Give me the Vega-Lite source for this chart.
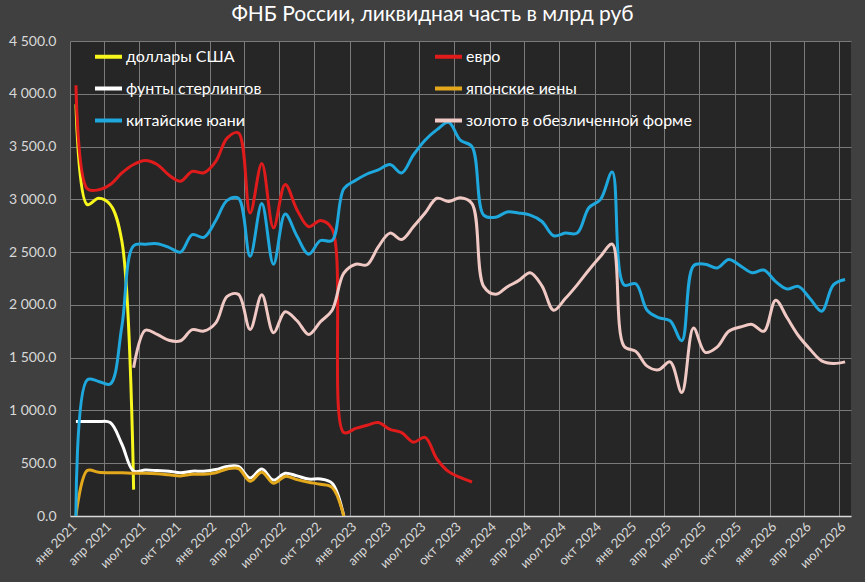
{
  "$schema": "https://vega.github.io/schema/vega-lite/v6.json",
  "width": 781,
  "height": 475,
  "autosize": "none",
  "padding": {"left": 70, "top": 41, "right": 14, "bottom": 66},
  "background": "#404040",
  "config": {"view": {"fill": "#262626", "stroke": null}, "font": "Lato"},
  "title": {"text": "ФНБ России, ликвидная часть в млрд руб", "color": "#ffffff", "fontSize": 21, "fontWeight": "normal", "anchor": "middle", "dx": -28, "offset": 9},
  "data": {"values": [
    {"d": "2021-01-01", "s": "доллары США", "v": 3900},
    {"d": "2021-02-01", "s": "доллары США", "v": 2950},
    {"d": "2021-03-01", "s": "доллары США", "v": 3010},
    {"d": "2021-04-01", "s": "доллары США", "v": 2950},
    {"d": "2021-05-01", "s": "доллары США", "v": 2600},
    {"d": "2021-06-01", "s": "доллары США", "v": 250},

    {"d": "2021-01-01", "s": "евро", "v": 4080},
    {"d": "2021-02-01", "s": "евро", "v": 3100},
    {"d": "2021-03-01", "s": "евро", "v": 3090},
    {"d": "2021-04-01", "s": "евро", "v": 3140},
    {"d": "2021-05-01", "s": "евро", "v": 3250},
    {"d": "2021-06-01", "s": "евро", "v": 3330},
    {"d": "2021-07-01", "s": "евро", "v": 3368},
    {"d": "2021-08-01", "s": "евро", "v": 3330},
    {"d": "2021-09-01", "s": "евро", "v": 3230},
    {"d": "2021-10-01", "s": "евро", "v": 3172},
    {"d": "2021-11-01", "s": "евро", "v": 3265},
    {"d": "2021-12-01", "s": "евро", "v": 3252},
    {"d": "2022-01-01", "s": "евро", "v": 3360},
    {"d": "2022-02-01", "s": "евро", "v": 3580},
    {"d": "2022-03-01", "s": "евро", "v": 3630},
    {"d": "2022-04-01", "s": "евро", "v": 2870},
    {"d": "2022-05-01", "s": "евро", "v": 3340},
    {"d": "2022-06-01", "s": "евро", "v": 2730},
    {"d": "2022-07-01", "s": "евро", "v": 3140},
    {"d": "2022-08-01", "s": "евро", "v": 2900},
    {"d": "2022-09-01", "s": "евро", "v": 2740},
    {"d": "2022-10-01", "s": "евро", "v": 2800},
    {"d": "2022-11-01", "s": "евро", "v": 2720},
    {"d": "2022-12-01", "s": "евро", "v": 790},
    {"d": "2023-01-01", "s": "евро", "v": 830},
    {"d": "2023-02-01", "s": "евро", "v": 860},
    {"d": "2023-03-01", "s": "евро", "v": 885},
    {"d": "2023-04-01", "s": "евро", "v": 820},
    {"d": "2023-05-01", "s": "евро", "v": 790},
    {"d": "2023-06-01", "s": "евро", "v": 700},
    {"d": "2023-07-01", "s": "евро", "v": 745},
    {"d": "2023-08-01", "s": "евро", "v": 540},
    {"d": "2023-09-01", "s": "евро", "v": 420},
    {"d": "2023-10-01", "s": "евро", "v": 365},
    {"d": "2023-11-01", "s": "евро", "v": 322},

    {"d": "2021-01-01", "s": "фунты стерлингов", "v": 895},
    {"d": "2021-02-01", "s": "фунты стерлингов", "v": 895},
    {"d": "2021-03-01", "s": "фунты стерлингов", "v": 895},
    {"d": "2021-04-01", "s": "фунты стерлингов", "v": 885},
    {"d": "2021-05-01", "s": "фунты стерлингов", "v": 680},
    {"d": "2021-06-01", "s": "фунты стерлингов", "v": 425},
    {"d": "2021-07-01", "s": "фунты стерлингов", "v": 435},
    {"d": "2021-08-01", "s": "фунты стерлингов", "v": 430},
    {"d": "2021-09-01", "s": "фунты стерлингов", "v": 425},
    {"d": "2021-10-01", "s": "фунты стерлингов", "v": 410},
    {"d": "2021-11-01", "s": "фунты стерлингов", "v": 425},
    {"d": "2021-12-01", "s": "фунты стерлингов", "v": 425},
    {"d": "2022-01-01", "s": "фунты стерлингов", "v": 440},
    {"d": "2022-02-01", "s": "фунты стерлингов", "v": 470},
    {"d": "2022-03-01", "s": "фунты стерлингов", "v": 470},
    {"d": "2022-04-01", "s": "фунты стерлингов", "v": 360},
    {"d": "2022-05-01", "s": "фунты стерлингов", "v": 445},
    {"d": "2022-06-01", "s": "фунты стерлингов", "v": 340},
    {"d": "2022-07-01", "s": "фунты стерлингов", "v": 405},
    {"d": "2022-08-01", "s": "фунты стерлингов", "v": 380},
    {"d": "2022-09-01", "s": "фунты стерлингов", "v": 350},
    {"d": "2022-10-01", "s": "фунты стерлингов", "v": 350},
    {"d": "2022-11-01", "s": "фунты стерлингов", "v": 310},
    {"d": "2022-12-01", "s": "фунты стерлингов", "v": 0},

    {"d": "2021-01-01", "s": "японские иены", "v": 0},
    {"d": "2021-02-01", "s": "японские иены", "v": 430},
    {"d": "2021-03-01", "s": "японские иены", "v": 415},
    {"d": "2021-04-01", "s": "японские иены", "v": 410},
    {"d": "2021-05-01", "s": "японские иены", "v": 410},
    {"d": "2021-06-01", "s": "японские иены", "v": 405},
    {"d": "2021-07-01", "s": "японские иены", "v": 405},
    {"d": "2021-08-01", "s": "японские иены", "v": 400},
    {"d": "2021-09-01", "s": "японские иены", "v": 390},
    {"d": "2021-10-01", "s": "японские иены", "v": 380},
    {"d": "2021-11-01", "s": "японские иены", "v": 395},
    {"d": "2021-12-01", "s": "японские иены", "v": 395},
    {"d": "2022-01-01", "s": "японские иены", "v": 410},
    {"d": "2022-02-01", "s": "японские иены", "v": 445},
    {"d": "2022-03-01", "s": "японские иены", "v": 450},
    {"d": "2022-04-01", "s": "японские иены", "v": 330},
    {"d": "2022-05-01", "s": "японские иены", "v": 415},
    {"d": "2022-06-01", "s": "японские иены", "v": 310},
    {"d": "2022-07-01", "s": "японские иены", "v": 375},
    {"d": "2022-08-01", "s": "японские иены", "v": 345},
    {"d": "2022-09-01", "s": "японские иены", "v": 320},
    {"d": "2022-10-01", "s": "японские иены", "v": 300},
    {"d": "2022-11-01", "s": "японские иены", "v": 270},
    {"d": "2022-12-01", "s": "японские иены", "v": 0},

    {"d": "2021-01-01", "s": "китайские юани", "v": 0},
    {"d": "2021-02-01", "s": "китайские юани", "v": 1290},
    {"d": "2021-03-01", "s": "китайские юани", "v": 1275},
    {"d": "2021-04-01", "s": "китайские юани", "v": 1250},
    {"d": "2021-05-01", "s": "китайские юани", "v": 1800},
    {"d": "2021-06-01", "s": "китайские юани", "v": 2560},
    {"d": "2021-07-01", "s": "китайские юани", "v": 2575},
    {"d": "2021-08-01", "s": "китайские юани", "v": 2580},
    {"d": "2021-09-01", "s": "китайские юани", "v": 2545},
    {"d": "2021-10-01", "s": "китайские юани", "v": 2500},
    {"d": "2021-11-01", "s": "китайские юани", "v": 2665},
    {"d": "2021-12-01", "s": "китайские юани", "v": 2640},
    {"d": "2022-01-01", "s": "китайские юани", "v": 2800},
    {"d": "2022-02-01", "s": "китайские юани", "v": 2990},
    {"d": "2022-03-01", "s": "китайские юани", "v": 3010},
    {"d": "2022-04-01", "s": "китайские юани", "v": 2460},
    {"d": "2022-05-01", "s": "китайские юани", "v": 2960},
    {"d": "2022-06-01", "s": "китайские юани", "v": 2385},
    {"d": "2022-07-01", "s": "китайские юани", "v": 2860},
    {"d": "2022-08-01", "s": "китайские юани", "v": 2650},
    {"d": "2022-09-01", "s": "китайские юани", "v": 2480},
    {"d": "2022-10-01", "s": "китайские юани", "v": 2610},
    {"d": "2022-11-01", "s": "китайские юани", "v": 2610},
    {"d": "2022-12-01", "s": "китайские юани", "v": 3100},
    {"d": "2023-01-01", "s": "китайские юани", "v": 3180},
    {"d": "2023-02-01", "s": "китайские юани", "v": 3240},
    {"d": "2023-03-01", "s": "китайские юани", "v": 3280},
    {"d": "2023-04-01", "s": "китайские юани", "v": 3330},
    {"d": "2023-05-01", "s": "китайские юани", "v": 3250},
    {"d": "2023-06-01", "s": "китайские юани", "v": 3420},
    {"d": "2023-07-01", "s": "китайские юани", "v": 3560},
    {"d": "2023-08-01", "s": "китайские юани", "v": 3660},
    {"d": "2023-09-01", "s": "китайские юани", "v": 3730},
    {"d": "2023-10-01", "s": "китайские юани", "v": 3560},
    {"d": "2023-11-01", "s": "китайские юани", "v": 3500},
    {"d": "2023-12-01", "s": "китайские юани", "v": 2850},
    {"d": "2024-01-01", "s": "китайские юани", "v": 2830},
    {"d": "2024-02-01", "s": "китайские юани", "v": 2880},
    {"d": "2024-03-01", "s": "китайские юани", "v": 2870},
    {"d": "2024-04-01", "s": "китайские юани", "v": 2850},
    {"d": "2024-05-01", "s": "китайские юани", "v": 2790},
    {"d": "2024-06-01", "s": "китайские юани", "v": 2655},
    {"d": "2024-07-01", "s": "китайские юани", "v": 2680},
    {"d": "2024-08-01", "s": "китайские юани", "v": 2680},
    {"d": "2024-09-01", "s": "китайские юани", "v": 2920},
    {"d": "2024-10-01", "s": "китайские юани", "v": 3000},
    {"d": "2024-11-01", "s": "китайские юани", "v": 3260},
    {"d": "2024-12-01", "s": "китайские юани", "v": 2190},
    {"d": "2025-01-01", "s": "китайские юани", "v": 2200},
    {"d": "2025-02-01", "s": "китайские юани", "v": 1950},
    {"d": "2025-03-01", "s": "китайские юани", "v": 1880},
    {"d": "2025-04-01", "s": "китайские юани", "v": 1850},
    {"d": "2025-05-01", "s": "китайские юани", "v": 1660},
    {"d": "2025-06-01", "s": "китайские юани", "v": 2370},
    {"d": "2025-07-01", "s": "китайские юани", "v": 2385},
    {"d": "2025-08-01", "s": "китайские юани", "v": 2350},
    {"d": "2025-09-01", "s": "китайские юани", "v": 2430},
    {"d": "2025-10-01", "s": "китайские юани", "v": 2370},
    {"d": "2025-11-01", "s": "китайские юани", "v": 2305},
    {"d": "2025-12-01", "s": "китайские юани", "v": 2330},
    {"d": "2026-01-01", "s": "китайские юани", "v": 2220},
    {"d": "2026-02-01", "s": "китайские юани", "v": 2150},
    {"d": "2026-03-01", "s": "китайские юани", "v": 2175},
    {"d": "2026-04-01", "s": "китайские юани", "v": 2060},
    {"d": "2026-05-01", "s": "китайские юани", "v": 1940},
    {"d": "2026-06-01", "s": "китайские юани", "v": 2190},
    {"d": "2026-07-01", "s": "китайские юани", "v": 2240},

    {"d": "2021-06-01", "s": "золото в обезличенной форме", "v": 1405},
    {"d": "2021-07-01", "s": "золото в обезличенной форме", "v": 1760},
    {"d": "2021-08-01", "s": "золото в обезличенной форме", "v": 1720},
    {"d": "2021-09-01", "s": "золото в обезличенной форме", "v": 1665},
    {"d": "2021-10-01", "s": "золото в обезличенной форме", "v": 1660},
    {"d": "2021-11-01", "s": "золото в обезличенной форме", "v": 1765},
    {"d": "2021-12-01", "s": "золото в обезличенной форме", "v": 1752},
    {"d": "2022-01-01", "s": "золото в обезличенной форме", "v": 1830},
    {"d": "2022-02-01", "s": "золото в обезличенной форме", "v": 2080},
    {"d": "2022-03-01", "s": "золото в обезличенной форме", "v": 2100},
    {"d": "2022-04-01", "s": "золото в обезличенной форме", "v": 1768},
    {"d": "2022-05-01", "s": "золото в обезличенной форме", "v": 2095},
    {"d": "2022-06-01", "s": "золото в обезличенной форме", "v": 1737},
    {"d": "2022-07-01", "s": "золото в обезличенной форме", "v": 1935},
    {"d": "2022-08-01", "s": "золото в обезличенной форме", "v": 1850},
    {"d": "2022-09-01", "s": "золото в обезличенной форме", "v": 1720},
    {"d": "2022-10-01", "s": "золото в обезличенной форме", "v": 1840},
    {"d": "2022-11-01", "s": "золото в обезличенной форме", "v": 1950},
    {"d": "2022-12-01", "s": "золото в обезличенной форме", "v": 2300},
    {"d": "2023-01-01", "s": "золото в обезличенной форме", "v": 2385},
    {"d": "2023-02-01", "s": "золото в обезличенной форме", "v": 2380},
    {"d": "2023-03-01", "s": "золото в обезличенной форме", "v": 2550},
    {"d": "2023-04-01", "s": "золото в обезличенной форме", "v": 2680},
    {"d": "2023-05-01", "s": "золото в обезличенной форме", "v": 2620},
    {"d": "2023-06-01", "s": "золото в обезличенной форме", "v": 2740},
    {"d": "2023-07-01", "s": "золото в обезличенной форме", "v": 2870},
    {"d": "2023-08-01", "s": "золото в обезличенной форме", "v": 3010},
    {"d": "2023-09-01", "s": "золото в обезличенной форме", "v": 2980},
    {"d": "2023-10-01", "s": "золото в обезличенной форме", "v": 3015},
    {"d": "2023-11-01", "s": "золото в обезличенной форме", "v": 2960},
    {"d": "2023-12-01", "s": "золото в обезличенной форме", "v": 2175},
    {"d": "2024-01-01", "s": "золото в обезличенной форме", "v": 2100},
    {"d": "2024-02-01", "s": "золото в обезличенной форме", "v": 2170},
    {"d": "2024-03-01", "s": "золото в обезличенной форме", "v": 2230},
    {"d": "2024-04-01", "s": "золото в обезличенной форме", "v": 2305},
    {"d": "2024-05-01", "s": "золото в обезличенной форме", "v": 2180},
    {"d": "2024-06-01", "s": "золото в обезличенной форме", "v": 1950},
    {"d": "2024-07-01", "s": "золото в обезличенной форме", "v": 2060},
    {"d": "2024-08-01", "s": "золото в обезличенной форме", "v": 2190},
    {"d": "2024-09-01", "s": "золото в обезличенной форме", "v": 2330},
    {"d": "2024-10-01", "s": "золото в обезличенной форме", "v": 2460},
    {"d": "2024-11-01", "s": "золото в обезличенной форме", "v": 2575},
    {"d": "2024-12-01", "s": "золото в обезличенной форме", "v": 1610},
    {"d": "2025-01-01", "s": "золото в обезличенной форме", "v": 1560},
    {"d": "2025-02-01", "s": "золото в обезличенной форме", "v": 1420},
    {"d": "2025-03-01", "s": "золото в обезличенной форме", "v": 1385},
    {"d": "2025-04-01", "s": "золото в обезличенной форме", "v": 1460},
    {"d": "2025-05-01", "s": "золото в обезличенной форме", "v": 1170},
    {"d": "2025-06-01", "s": "золото в обезличенной форме", "v": 1780},
    {"d": "2025-07-01", "s": "золото в обезличенной форме", "v": 1550},
    {"d": "2025-08-01", "s": "золото в обезличенной форме", "v": 1600},
    {"d": "2025-09-01", "s": "золото в обезличенной форме", "v": 1750},
    {"d": "2025-10-01", "s": "золото в обезличенной форме", "v": 1790},
    {"d": "2025-11-01", "s": "золото в обезличенной форме", "v": 1815},
    {"d": "2025-12-01", "s": "золото в обезличенной форме", "v": 1750},
    {"d": "2026-01-01", "s": "золото в обезличенной форме", "v": 2045},
    {"d": "2026-02-01", "s": "золото в обезличенной форме", "v": 1880},
    {"d": "2026-03-01", "s": "золото в обезличенной форме", "v": 1710},
    {"d": "2026-04-01", "s": "золото в обезличенной форме", "v": 1580},
    {"d": "2026-05-01", "s": "золото в обезличенной форме", "v": 1470},
    {"d": "2026-06-01", "s": "золото в обезличенной форме", "v": 1445},
    {"d": "2026-07-01", "s": "золото в обезличенной форме", "v": 1460}
  ]},
  "mark": {"type": "line", "interpolate": "catmull-rom", "strokeWidth": 3, "clip": true},
  "encoding": {
    "x": {
      "field": "d",
      "type": "temporal",
      "timeUnit": "utcyearmonth",
      "bandPosition": 0.5,
      "scale": {
        "domain": [
          {"year": 2021, "month": 1, "date": 1, "utc": true},
          {"year": 2026, "month": 8, "date": 1, "utc": true}
        ],
        "nice": false
      },
      "axis": {
        "title": null,
        "tickCount": {"interval": "month", "step": 3},
        "labelOverlap": false,
        "labelExpr": "['янв','фев','мар','апр','май','июн','июл','авг','сен','окт','ноя','дек'][utcmonth(datum.value)] + ' ' + utcyear(datum.value)",
        "labelAngle": -45,
        "labelColor": "#d9d9d9",
        "labelFontSize": 13,
        "labelPadding": 4,
        "ticks": false,
        "grid": true,
        "gridColor": "#7a7a7a",
        "gridWidth": 1,
        "domainColor": "#d9d9d9",
        "domainWidth": 1.5
      }
    },
    "y": {
      "field": "v",
      "type": "quantitative",
      "scale": {"domain": [0, 4500], "nice": false},
      "axis": {
        "title": null,
        "tickCount": 9,
        "labelExpr": "replace(format(datum.value, ',.1f'), ',', ' ')",
        "labelColor": "#d9d9d9",
        "labelFontSize": 14,
        "labelPadding": 14,
        "ticks": false,
        "domain": false,
        "gridColor": "#7a7a7a",
        "gridWidth": 1
      }
    },
    "color": {
      "field": "s",
      "type": "nominal",
      "scale": {
        "domain": ["доллары США", "евро", "фунты стерлингов", "японские иены", "китайские юани", "золото в обезличенной форме"],
        "range": ["#f7f71e", "#e01b1b", "#ffffff", "#e3a81b", "#1ea8dd", "#f0c8c4"]
      },
      "legend": {
        "title": null,
        "orient": "none",
        "legendX": 23,
        "legendY": 0,
        "direction": "horizontal",
        "columns": 2,
        "gridAlign": "all",
        "symbolType": "stroke",
        "symbolSize": 729,
        "symbolStrokeWidth": 4,
        "labelColor": "#ffffff",
        "labelFontSize": 16,
        "labelOffset": 2,
        "labelLimit": 400,
        "rowPadding": 8,
        "columnPadding": 75
      }
    }
  }
}
